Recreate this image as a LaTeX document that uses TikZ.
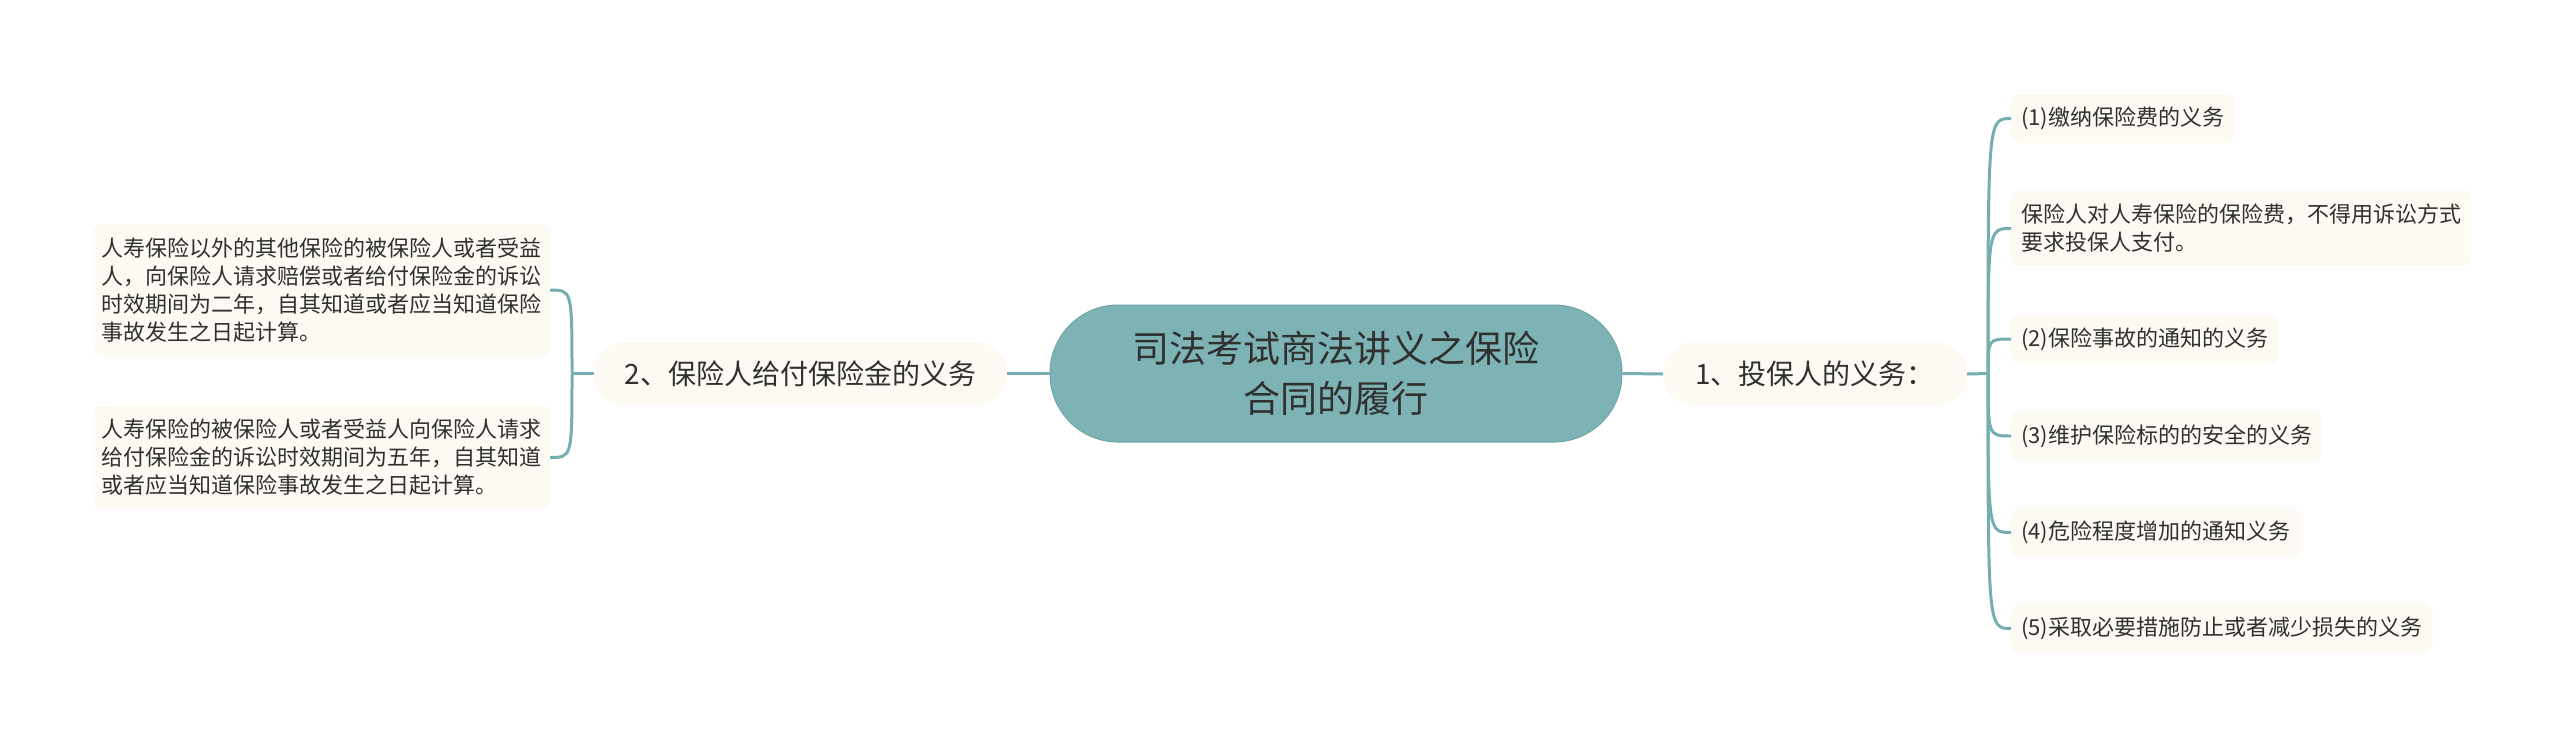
\documentclass[tikz,border=0pt]{standalone}
\usepackage{fontspec}
\setmainfont{Noto Sans CJK SC}
\usetikzlibrary{calc}
\definecolor{rootfill}{HTML}{7DB3B5}
\definecolor{rootdraw}{HTML}{6FA7A9}
\definecolor{linec}{HTML}{74AEB0}
\definecolor{leaffill}{HTML}{FCFAF2}
\definecolor{txt}{HTML}{303030}
\tikzset{
  rootbox/.style={fill=rootfill, draw=rootdraw, line width=1pt, rounded corners=68pt,
    minimum width=572pt, minimum height=137pt, inner sep=0pt, text=txt,
    font=\fontsize{37}{50}\selectfont, align=center},
  subbox/.style={fill=leaffill, rounded corners=31pt, minimum height=63pt, inner sep=0pt,
    text=txt, font=\fontsize{28}{34}\selectfont},
  leafbox/.style={fill=leaffill, rounded corners=8pt, inner xsep=10pt, inner ysep=13.5pt,
    text=txt, font=\fontsize{22}{28}\selectfont, align=left},
  leafone/.style={leafbox, minimum height=49pt, inner ysep=0pt},
  conn/.style={draw=linec, line width=3pt}
}
\begin{document}
\begin{tikzpicture}[x=1pt,y=-1pt]
\useasboundingbox (0,0) rectangle (2560,747);

\node[rootbox] (root) at (1336,373.5) {司法考试商法讲义之保险\\合同的履行};
\node[subbox, minimum width=413pt] (n2) at (800.5,373.5) {2、保险人给付保险金的义务};
\node[subbox, minimum width=304pt] (n1) at (1815,374) {1、投保人的义务：};

\node[leafbox, anchor=east, inner xsep=8.5pt] (l1) at (550,290) {人寿保险以外的其他保险的被保险人或者受益\\人，向保险人请求赔偿或者给付保险金的诉讼\\时效期间为二年，自其知道或者应当知道保险\\事故发生之日起计算。};
\node[leafbox, anchor=east, inner xsep=8.5pt] (l2) at (550,457.5) {人寿保险的被保险人或者受益人向保险人请求\\给付保险金的诉讼时效期间为五年，自其知道\\或者应当知道保险事故发生之日起计算。};

\node[leafone, anchor=west] (r1) at (2011,118.5) {(1)缴纳保险费的义务};
\node[leafbox, anchor=west] (r2) at (2011,228.5) {保险人对人寿保险的保险费，不得用诉讼方式\\要求投保人支付。};
\node[leafone, anchor=west] (r3) at (2011,339) {(2)保险事故的通知的义务};
\node[leafone, anchor=west] (r4) at (2011,436) {(3)维护保险标的的安全的义务};
\node[leafone, anchor=west] (r5) at (2011,532.5) {(4)危险程度增加的通知义务};
\node[leafone, anchor=west] (r6) at (2011,628.5) {(5)采取必要措施防止或者减少损失的义务};

\draw[conn] (root.west) -- (n2.east);
\draw[conn] (root.east) -- (n1.west);

\coordinate (tl) at (572,373.5);
\draw[conn] (n2.west) -- (tl);
\foreach \c in {l1,l2}
  \draw[conn] (tl) .. controls (tl |- \c.east) and (tl |- \c.east) .. (\c.east);

\coordinate (tr) at (1988,373.5);
\draw[conn] (n1.east) -- (tr);
\foreach \c in {r1,r2,r3,r4,r5,r6}
  \draw[conn] (tr) .. controls (tr |- \c.west) and (tr |- \c.west) .. (\c.west);
\end{tikzpicture}
\end{document}
